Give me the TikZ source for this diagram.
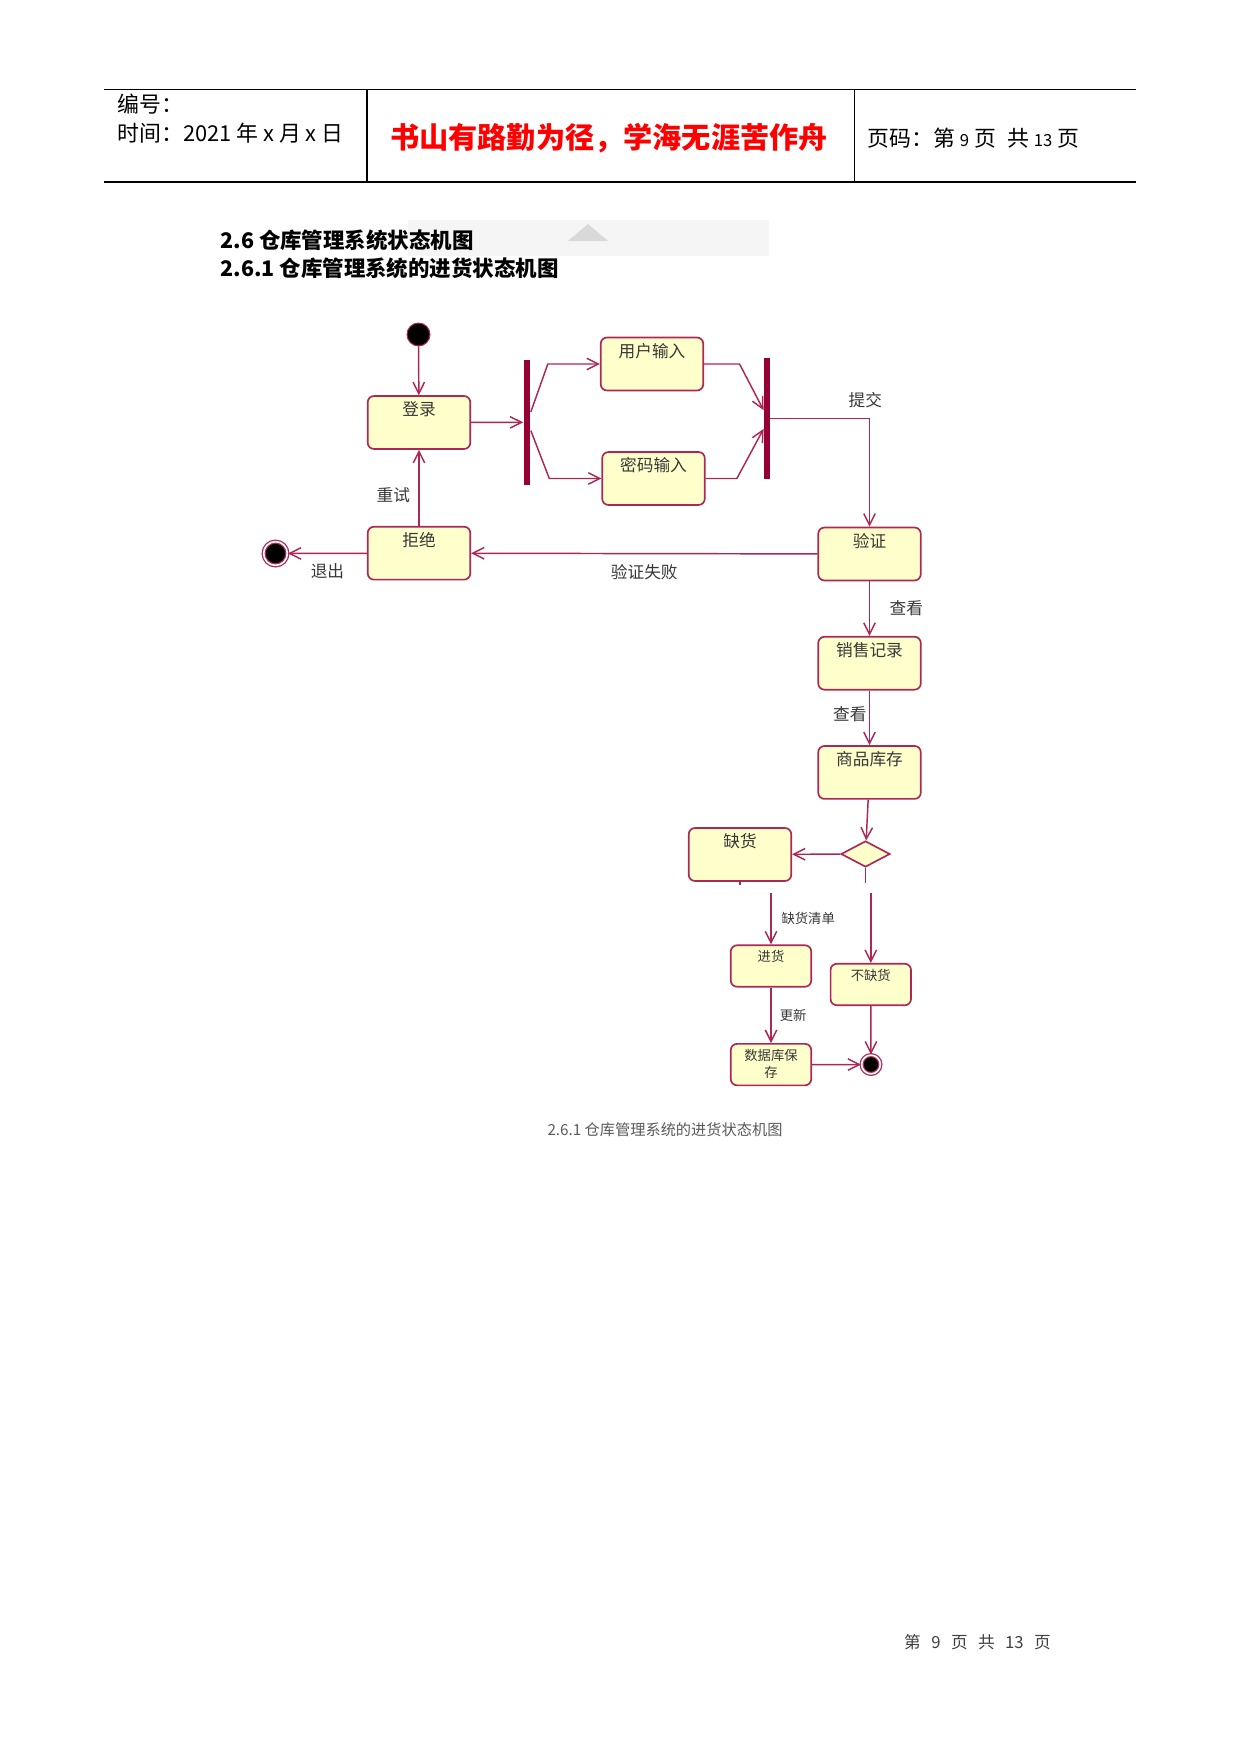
\documentclass[tikz,border=0pt]{standalone}
\usepackage{fontspec}
\setmainfont{Noto Sans CJK SC}
\usepackage{tikz}
\usetikzlibrary{shapes.geometric, arrows.meta, positioning, calc}

\definecolor{umlline}{RGB}{172,38,86}
\definecolor{umlbar}{RGB}{150,0,52}
\definecolor{umlfill}{RGB}{255,255,204}
\definecolor{umltext}{RGB}{55,55,55}
\definecolor{mottored}{RGB}{255,0,0}

\begin{document}
\begin{tikzpicture}[
    x=0.4798pt, y=-0.4798pt,
    node distance=26.2pt,
    umlstate/.style={rectangle, draw=umlline, fill=umlfill, line width=0.8pt, rounded corners=3pt, minimum width=49.2pt, inner xsep=0pt, inner ysep=0pt, text height=9.5pt, text depth=15.9pt, text=umltext, font=\fontsize{8}{9.6}\selectfont},
    smallstate/.style={umlstate, minimum width=38.6pt, text height=7.9pt, text depth=12pt, font=\fontsize{6.4}{8}\selectfont},
    bar/.style={rectangle, fill=umlbar, inner sep=0pt, minimum width=3.3pt},
    decision/.style={diamond, draw=umlline, fill=umlfill, line width=0.8pt, inner sep=0pt, minimum width=23.5pt, minimum height=12.5pt},
    startstate/.style={circle, fill=black, draw=umlline, line width=0.5pt, minimum size=11pt, inner sep=0pt},
    endstate/.style={circle, fill=black, draw=umlline, line width=0.6pt, double=white, double distance=0.8pt, minimum size=11.4pt, inner sep=0pt},
    flow/.style={->, >={Straight Barb[length=5.5pt, width=5.5pt]}, line width=0.7pt, umlline},
    lbl/.style={text=umltext, font=\fontsize{8}{9.6}\selectfont, inner sep=0pt},
    smalllbl/.style={lbl, font=\fontsize{6.4}{8}\selectfont},
    hdr/.style={anchor=west, inner sep=0pt, font=\fontsize{10.5}{12}\selectfont}
]
\useasboundingbox (0,0) rectangle (1241,1754);

% page header
\draw[line width=0.7pt] (104,89.5) -- (1136,89.5);
\draw[line width=0.7pt] (104,182) -- (1136,182);
\draw[line width=0.8pt] (367,89.5) -- (367,182);
\draw[line width=0.4pt] (854,89.5) -- (854,182);
\node[hdr] (hdrno) at (117,104) {编号：};
\node[hdr] (hdrdate) at (117,133) {时间：2021 年 x 月 x 日};
\node[inner sep=0pt, text=mottored, font=\fontsize{14}{16}\selectfont\bfseries] (motto) at (609,138) {书山有路勤为径，学海无涯苦作舟};
\node[hdr] (pageno) at (867,138) {页码：第 {\fontsize{8}{10}\selectfont 9} 页\hspace{3pt} 共 {\fontsize{8}{10}\selectfont 13} 页};

% section titles
\fill[black!4] (408,220) rectangle (769,256);
\fill[black!15] (568,241) -- (588,224) -- (608,241) -- cycle;
\node[hdr, font=\fontsize{10.3}{12}\selectfont\bfseries] (sec) at (220,240) {2.6 仓库管理系统状态机图};
\node[hdr, font=\fontsize{10.3}{12}\selectfont\bfseries] (subsec) at (220,268) {2.6.1 仓库管理系统的进货状态机图};

% login part
\node[startstate] (start) at (418.5,334.5) {};
\node[umlstate] (login) at (419,422.5) {登录};
\node[bar, minimum height=59.8pt] (fork) at (527,422.3) {};
\node[umlstate] (userin) at (652,364) {用户输入};
\node[umlstate] (pwdin) at (653.5,478.5) {密码输入};
\node[bar, minimum height=58pt, minimum width=2.9pt] (join) at (767,418.5) {};
\node[umlstate] (verify) at (869.5,554) {验证};
\node[umlstate, below=36.5pt of login] (reject) {拒绝};
\node[endstate] (quit) at (275.5,553.5) {};

\draw[flow] (start) -- (login);
\draw[flow] (login) -- (fork);
\draw[flow] ([yshift=5pt]fork.east) -- ([xshift=-25pt]userin.west) -- (userin);
\draw[flow] ([yshift=-4pt]fork.east) -- ([xshift=-25pt]pwdin.west) -- (pwdin);
\draw[flow] (userin) -- ([xshift=17pt]userin.east) -- ([yshift=4pt]join.west);
\draw[flow] (pwdin) -- ([xshift=15pt]pwdin.east) -- ([yshift=-5pt]join.west);
\draw[flow] (join) -| node[lbl, pos=0.5, above=4.6pt, xshift=-2pt] (lblsubmit) {提交} (verify);
\draw[flow] (verify) -- node[lbl, below=5pt] (lblfail) {验证失败} (reject);
\draw[flow] (reject) -- node[lbl, left=4pt, pos=0.41] (lblretry) {重试} (login);
\draw[flow] (reject) -- node[lbl, below=4.6pt] (lblquit) {退出} (quit);

% stock part
\node[umlstate, below=of verify] (sales) {销售记录};
\node[umlstate, below=of sales] (stock) {商品库存};
\node[decision] (check) at (865.5,854) {};
\node[umlstate] (lack) at (740,854.5) {缺货};
\node[smallstate] (restock) at (771,966) {进货};
\node[smallstate] (nolack) at (870.8,984.5) {不缺货};
\node[smallstate, below=26.6pt of restock] (dbsave) {};
\node[smalllbl, anchor=north, align=center] (dbname) at ([yshift=-2.9pt]dbsave.north) {数据库保\\存};
\node[endstate, minimum size=9pt] (done) at (871,1064.5) {};
\coordinate (restockin) at (771,892.7);
\coordinate (nolackin) at (870.8,892.7);

\draw[flow] (verify) -- node[lbl, right=9.3pt] (lblview) {查看} (sales);
\draw[flow] (sales) -- node[lbl, left=1.1pt, pos=0.44] (lblcheck) {查看} (stock);
\draw[flow] (stock) -- (check);
\draw[flow] (check) -- (lack);
\draw[umlline, line width=0.7pt] (check.south) -- ++(0,15);
\draw[umlline, line width=0.7pt] (lack.south) -- ++(0,3);
\draw[flow] (restockin) -- node[smalllbl, right=4.7pt] (lbllist) {缺货清单} (restock);
\draw[flow] (nolackin) -- (nolack);
\draw[flow] (restock) -- node[smalllbl, right=3.9pt] (lblupdate) {更新} (dbsave);
\draw[flow] (dbsave) -- (done);
\draw[flow] (nolack) -- (done);

% caption and footer
\node[inner sep=0pt, text=black!65, font=\fontsize{7.3}{9}\selectfont] (caption) at (665,1130) {2.6.1 仓库管理系统的进货状态机图};
\node[inner sep=0pt, text=black!75, font=\fontsize{8}{10}\selectfont] (footer) at (977.5,1641.7) {第\hspace{5pt}9\hspace{5pt}页\hspace{5pt}共\hspace{5pt}13\hspace{5pt}页};
\end{tikzpicture}
\end{document}
